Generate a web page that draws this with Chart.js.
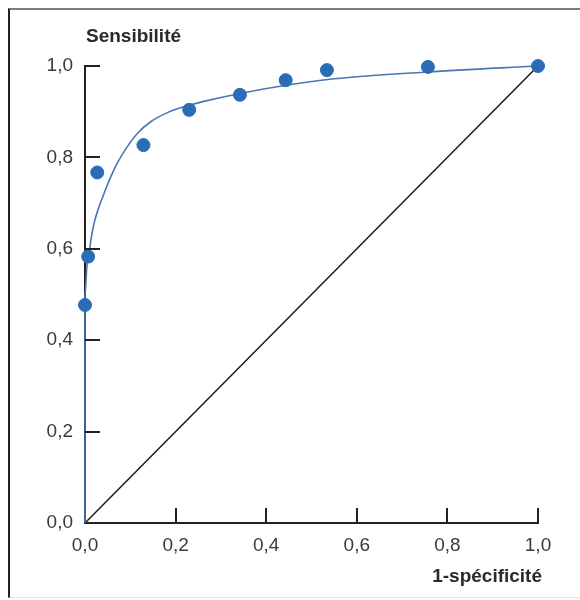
<!DOCTYPE html>
<html>
<head>
<meta charset="utf-8">
<script src="https://cdn.jsdelivr.net/npm/chart.js@4.4.0/dist/chart.umd.min.js"></script>
<style>
  html, body { margin: 0; padding: 0; background: #fff; }
  #wrap { position: relative; width: 580px; height: 600px; overflow: hidden; }
  #frame { position: absolute; left: 8px; top: 8px; width: 620px; height: 587px;
           border-top: 2px solid #7a7a7a; border-left: 2px solid #222; border-bottom: 1px solid #e2e2e2; }
  canvas { position: absolute; left: 0; top: 0; }
</style>
</head>
<body>
<div id="wrap">
  <div id="frame"></div>
  <canvas id="roc" width="580" height="600"></canvas>
</div>
<script>
  // observed points (1-specificity, sensitivity)
  const fpr = [0, 0.007, 0.027, 0.129, 0.23, 0.342, 0.443, 0.534, 0.757, 1.0];
  const sens = [0.477, 0.583, 0.767, 0.827, 0.904, 0.937, 0.969, 0.991, 0.998, 1.0];

  // fitted curve
  const fitX = [0, 0, 0.004, 0.009, 0.013, 0.020, 0.031, 0.042, 0.057, 0.071, 0.093, 0.116, 0.145, 0.182, 0.219, 0.26, 0.342, 0.444, 0.55, 0.757, 1.0];
  const fitY = [0, 0.5, 0.56, 0.59, 0.619, 0.656, 0.692, 0.721, 0.758, 0.787, 0.823, 0.853, 0.878, 0.898, 0.911, 0.922, 0.940, 0.958, 0.972, 0.987, 1.0];

  const diagX = [0, 1];
  const diagY = [0, 1];

  const tickVals = [0, 0.2, 0.4, 0.6, 0.8, 1.0];
  const yTitle = 'Sensibilité';
  const xTitle = '1-spécificité';

  const toXY = (xs, ys) => xs.map((x, i) => ({ x: x, y: ys[i] }));
  const fmt = v => Number(v).toFixed(1).replace('.', ',');
  const FONT = "'Liberation Sans', Arial, sans-serif";

  // inward tick marks + axis titles
  const decor = {
    id: 'decor',
    afterDraw(chart) {
      const c = chart.ctx, a = chart.chartArea;
      const xs = chart.scales.x, ys = chart.scales.y;
      c.save();
      c.strokeStyle = '#222';
      c.lineWidth = 2;
      c.beginPath();
      tickVals.forEach(v => {
        if (v === 0) return;
        const px = Math.round(xs.getPixelForValue(v));
        c.moveTo(px, a.bottom);
        c.lineTo(px, a.bottom - 15);
        const py = Math.round(ys.getPixelForValue(v));
        c.moveTo(a.left, py);
        c.lineTo(a.left + 15, py);
      });
      c.stroke();
      c.fillStyle = '#2a2a2a';
      c.font = 'bold 19px ' + FONT;
      c.textBaseline = 'middle';
      c.textAlign = 'left';
      c.fillText(yTitle, a.left + 1, 37);
      c.textAlign = 'right';
      c.fillText(xTitle, a.right + 4, 577);
      c.restore();
    }
  };

  const ctx = document.getElementById('roc').getContext('2d');
  const chart = new Chart(ctx, {
    type: 'scatter',
    data: {
      datasets: [
        {
          label: 'points',
          data: toXY(fpr, sens),
          backgroundColor: '#2b6cb6',
          borderColor: '#2b6cb6',
          pointRadius: 6.5,
          pointHoverRadius: 6.5,
          clip: false,
          order: 0
        },
        {
          label: 'courbe',
          type: 'line',
          data: toXY(fitX, fitY),
          borderColor: '#4a76b4',
          borderWidth: 1.6,
          pointRadius: 0,
          cubicInterpolationMode: 'monotone',
          fill: false,
          clip: false,
          order: 1
        },
        {
          label: 'diagonale',
          type: 'line',
          data: toXY(diagX, diagY),
          borderColor: '#1a1a1a',
          borderWidth: 1.5,
          pointRadius: 0,
          fill: false,
          order: 2
        }
      ]
    },
    options: {
      responsive: false,
      animation: false,
      events: [],
      layout: { padding: { top: 66, right: 42, left: 0, bottom: 0 } },
      plugins: { legend: { display: false }, tooltip: { enabled: false } },
      scales: {
        x: {
          type: 'linear',
          min: 0, max: 1,
          afterBuildTicks: s => { s.ticks = tickVals.map(v => ({ value: v })); },
          afterFit: s => { s.height = 77; },
          border: { display: true, color: '#222', width: 2 },
          grid: { display: false, drawTicks: false },
          ticks: {
            padding: 11,
            color: '#3a3a3a',
            font: { family: FONT, size: 19 },
            callback: v => fmt(v)
          }
        },
        y: {
          type: 'linear',
          min: 0, max: 1,
          afterBuildTicks: s => { s.ticks = tickVals.map(v => ({ value: v })); },
          afterFit: s => { s.width = 85; },
          border: { display: true, color: '#222', width: 2 },
          grid: { display: false, drawTicks: false },
          ticks: {
            padding: 12,
            color: '#3a3a3a',
            font: { family: FONT, size: 19 },
            callback: v => fmt(v)
          }
        }
      }
    },
    plugins: [decor]
  });
</script>
</body>
</html>
